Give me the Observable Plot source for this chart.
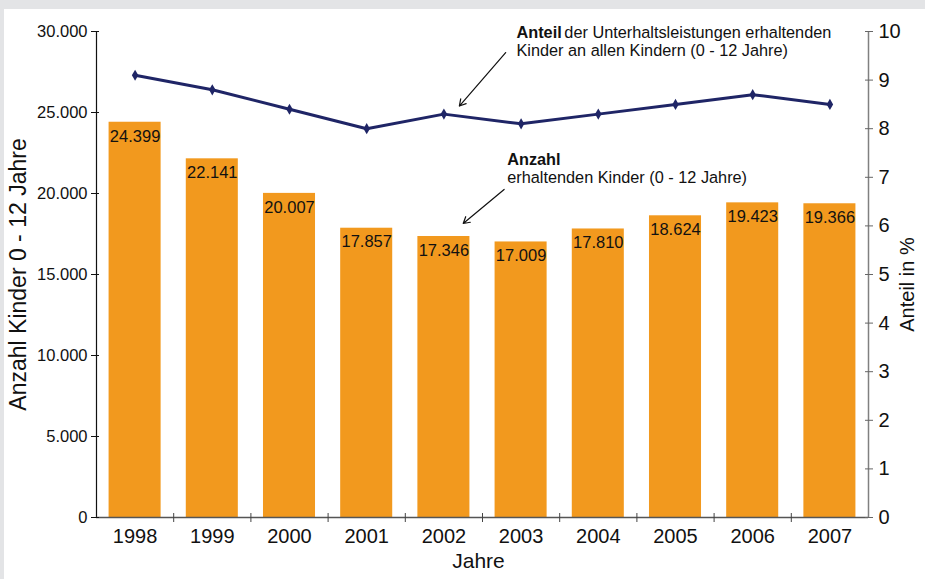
<!DOCTYPE html>
<html>
<head>
<meta charset="utf-8">
<script src="https://cdn.jsdelivr.net/npm/d3@7"></script>
<script src="https://cdn.jsdelivr.net/npm/@observablehq/plot@0.6"></script>
<style>
  html, body { margin: 0; padding: 0; background: #e3e4e6; width: 925px; height: 579px; overflow: hidden; }
  #panel { position: absolute; left: 4px; top: 9px; width: 921px; height: 570px; background: #ffffff; }
</style>
</head>
<body>
<div id="panel"></div>
<script>
// ---- data ----
const years = [1998, 1999, 2000, 2001, 2002, 2003, 2004, 2005, 2006, 2007];
const counts = [24399, 22141, 20007, 17857, 17346, 17009, 17810, 18624, 19423, 19366];
const shares = [9.1, 8.8, 8.4, 8.0, 8.3, 8.1, 8.3, 8.5, 8.7, 8.5];
const leftTicks = [0, 5000, 10000, 15000, 20000, 25000, 30000];
const rightTicks = [0, 1, 2, 3, 4, 5, 6, 7, 8, 9, 10];
const rightMax = 10, leftMax = 30000;

// annotations (positions in data units: x = year, y = left-axis units)
const annoBold = [
  {x: 2002.94, y: 29940, text: "Anteil"},
  {x: 2002.82, y: 22100, text: "Anzahl"}
];
const annoPlain = [
  {x: 2003.56, y: 29940, text: "der Unterhaltsleistungen erhaltenden"},
  {x: 2002.94, y: 28830, text: "Kinder an allen Kindern (0 - 12 Jahre)"},
  {x: 2002.82, y: 20990, text: "erhaltenden Kinder (0 - 12 Jahre)"}
];
const arrows = [
  {x1: 2002.80, y1: 28700, x2: 2002.20, y2: 25400},
  {x1: 2002.78, y1: 20250, x2: 2002.25, y2: 18150}
];

const data = years.map((y, i) => ({year: y, count: counts[i], share: shares[i]}));
const ratio = leftMax / rightMax;
const deFmt = d => d === 0 ? "0" : d3.format(",")(d).replace(/,/g, ".");
const bounds = years.slice(0, -1).map(y => y + 0.5);
const half = 0.337;
const font = "'Liberation Sans', Arial, sans-serif";

const chart = Plot.plot({
  width: 921,
  height: 570,
  marginLeft: 92,
  marginRight: 57,
  marginTop: 22,
  marginBottom: 62,
  style: {fontFamily: font, background: "transparent", color: "#111"},
  x: {type: "linear", domain: [years[0] - 0.5, years[years.length - 1] + 0.5]},
  y: {domain: [0, leftMax]},
  marks: [
    Plot.rectY(data, {x1: d => d.year - half, x2: d => d.year + half, y: "count", fill: "#f2991e"}),
    Plot.text(data, {x: "year", y: "count", text: d => deFmt(d.count), dy: 14, fontSize: 16.5, fill: "#111"}),
    Plot.line(data, {x: "year", y: d => d.share * ratio, stroke: "#1f2566", strokeWidth: 3}),
    Plot.dot(data, {x: "year", y: d => d.share * ratio, symbol: "diamond", r: 3.4, fill: "#1f2566"}),
    // axis lines
    Plot.ruleX([years[0] - 0.5], {stroke: "#111", strokeWidth: 1.2}),
    Plot.ruleX([years[years.length - 1] + 0.5], {stroke: "#808080", strokeWidth: 1.5}),
    Plot.ruleY([0], {stroke: "#555", strokeWidth: 1.5}),
    // left axis
    Plot.axisY({anchor: "left", ticks: leftTicks, tickFormat: deFmt, tickSize: 8, dx: 3, tickPadding: 4, fontSize: 16.5, label: null, stroke: "#111"}),
    // right axis
    Plot.axisY({anchor: "right", ticks: rightTicks.map(t => t * ratio), tickFormat: d => String(Math.round(d / ratio)), tickSize: 8, dx: -4, tickPadding: 6, fontSize: 20, label: null, stroke: "#666"}),
    // bottom axis labels
    Plot.axisX({anchor: "bottom", ticks: years, tickFormat: d => String(d), tickSize: 0, tickPadding: 11, fontSize: 20, label: null}),
    // bottom boundary ticks
    Plot.axisX({anchor: "bottom", ticks: bounds, tickFormat: () => "", tickSize: 9, dy: -4, label: null, stroke: "#444"}),
    // axis titles
    Plot.text(["Anzahl Kinder 0 - 12 Jahre"], {frameAnchor: "left", textAnchor: "middle", rotate: -90, dx: -78, dy: 0, fontSize: 23, fill: "#111"}),
    Plot.text(["Anteil in %"], {frameAnchor: "right", textAnchor: "middle", rotate: -90, dx: 39, dy: 10, fontSize: 20, fill: "#111"}),
    Plot.text(["Jahre"], {frameAnchor: "bottom", dx: -4, dy: 50, fontSize: 21, fill: "#111"}),
    // annotations
    Plot.text(annoBold, {x: "x", y: "y", text: "text", textAnchor: "start", fontWeight: "bold", fontSize: 16.3, fill: "#111"}),
    Plot.text(annoPlain, {x: "x", y: "y", text: "text", textAnchor: "start", fontSize: 16.3, fill: "#111"}),
    Plot.arrow(arrows, {x1: "x1", y1: "y1", x2: "x2", y2: "y2", stroke: "#111", strokeWidth: 1.2, headLength: 9})
  ]
});
document.getElementById("panel").appendChild(chart);
</script>
</body>
</html>
